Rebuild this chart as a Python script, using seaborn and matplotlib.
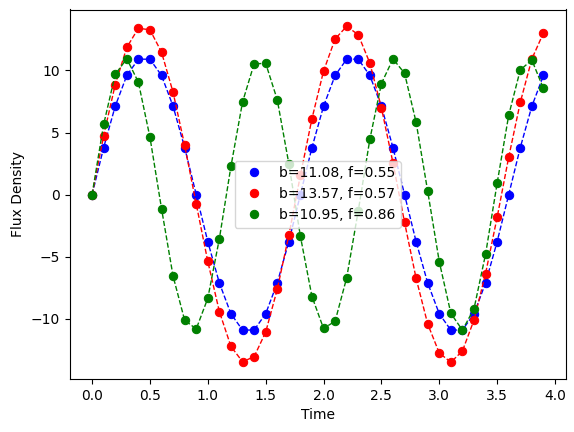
import numpy as np
import matplotlib
matplotlib.use('Agg')
import matplotlib.pyplot as plt
import seaborn as sns

# sample times
time = [0.0, 0.1, 0.2, 0.3, 0.4, 0.5, 0.6, 0.7, 0.8, 0.9,
        1.0, 1.1, 1.2, 1.3, 1.4, 1.5, 1.6, 1.7, 1.8, 1.9,
        2.0, 2.1, 2.2, 2.3, 2.4, 2.5, 2.6, 2.7, 2.8, 2.9,
        3.0, 3.1, 3.2, 3.3, 3.4, 3.5, 3.6, 3.7, 3.8, 3.9]

# flux values
flux_blue = [0, 3.79, 7.12, 9.6, 10.91, 10.91, 9.6, 7.12, 3.79, 0,
             -3.79, -7.12, -9.6, -10.91, -10.91, -9.6, -7.12, -3.79, 0, 3.79,
             7.12, 9.6, 10.91, 10.91, 9.6, 7.12, 3.79, 0, -3.79, -7.12,
             -9.6, -10.91, -10.91, -9.6, -7.12, -3.79, 0, 3.79, 7.12, 9.6]
flux_red = [0, 4.75, 8.86, 11.86, 13.4, 13.28, 11.48, 8.24, 3.97, -0.75,
            -5.38, -9.43, -12.23, -13.46, -13.06, -11.08, -7.63, -3.28, 1.55, 6.12,
            9.95, 12.54, 13.56, 12.88, 10.6, 7.0, 2.56, -2.23, -6.75, -10.42,
            -12.76, -13.5, -12.6, -10.1, -6.36, -1.83, 3.02, 7.43, 10.93, 13.02]
flux_green = [0, 5.65, 9.68, 10.95, 9.06, 4.63, -1.12, -6.57, -10.12, -10.82,
              -8.35, -3.55, 2.28, 7.45, 10.53, 10.58, 7.65, 2.5, -3.35, -8.21,
              -10.78, -10.2, -6.7, -1.3, 4.45, 8.95, 10.93, 9.78, 5.82, 0.27,
              -5.4, -9.56, -10.92, -9.2, -4.8, 0.92, 6.4, 10.05, 10.84, 8.55]

labels = ['b=11.08, f=0.55', 'b=13.57, f=0.57', 'b=10.95, f=0.86']
colors = ['b', 'r', 'g']

fig = plt.figure(figsize=(5.74, 4.32), dpi=100)
ax = fig.add_axes([69.5/574, 1 - 379/432, (566 - 69.5)/574, (379 - 9.5)/432])

for y, c, lab in zip([flux_blue, flux_red, flux_green], colors, labels):
    # markers only (these go in the legend)
    sns.lineplot(x=time, y=y, color=c, marker='o', markersize=6,
                 markeredgecolor=c, linestyle='', label=lab, ax=ax)
    # dashed connecting line
    sns.lineplot(x=time, y=y, color=c, linestyle='--', linewidth=1, ax=ax)

ax.set_xlabel('Time')
ax.set_ylabel('Flux Density')
ax.set_xticks([0.0, 0.5, 1.0, 1.5, 2.0, 2.5, 3.0, 3.5, 4.0])
ax.legend(loc='center')

plt.savefig('out.png', dpi=100)
